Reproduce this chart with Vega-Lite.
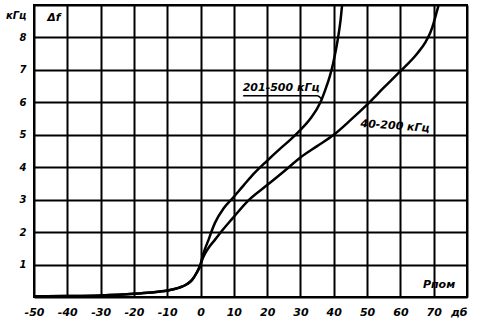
{
  "$schema": "https://vega.github.io/schema/vega-lite/v6.json",
  "width": 433,
  "height": 292,
  "autosize": "none",
  "padding": {"left": 34, "top": 5, "right": 11, "bottom": 29},
  "background": "white",
  "config": {
    "view": {"stroke": "black", "strokeWidth": 2},
    "font": "DejaVu Sans"
  },
  "datasets": {
    "curves": [
      {"series": "201-500 кГц", "x": -50, "y": 0.02},
      {"series": "201-500 кГц", "x": -40, "y": 0.03},
      {"series": "201-500 кГц", "x": -30, "y": 0.05},
      {"series": "201-500 кГц", "x": -20, "y": 0.1},
      {"series": "201-500 кГц", "x": -15, "y": 0.14},
      {"series": "201-500 кГц", "x": -10, "y": 0.2},
      {"series": "201-500 кГц", "x": -6.6, "y": 0.28},
      {"series": "201-500 кГц", "x": -4, "y": 0.4},
      {"series": "201-500 кГц", "x": -2.6, "y": 0.52},
      {"series": "201-500 кГц", "x": -1.2, "y": 0.74},
      {"series": "201-500 кГц", "x": 0, "y": 1.0},
      {"series": "201-500 кГц", "x": 0.6, "y": 1.25},
      {"series": "201-500 кГц", "x": 1.4, "y": 1.5},
      {"series": "201-500 кГц", "x": 2.4, "y": 1.76},
      {"series": "201-500 кГц", "x": 3.4, "y": 2.05},
      {"series": "201-500 кГц", "x": 4.4, "y": 2.3},
      {"series": "201-500 кГц", "x": 6.9, "y": 2.73},
      {"series": "201-500 кГц", "x": 9.4, "y": 3.02},
      {"series": "201-500 кГц", "x": 13, "y": 3.45},
      {"series": "201-500 кГц", "x": 16, "y": 3.8},
      {"series": "201-500 кГц", "x": 20, "y": 4.2},
      {"series": "201-500 кГц", "x": 24, "y": 4.58},
      {"series": "201-500 кГц", "x": 27, "y": 4.85},
      {"series": "201-500 кГц", "x": 30, "y": 5.15},
      {"series": "201-500 кГц", "x": 33, "y": 5.5},
      {"series": "201-500 кГц", "x": 36, "y": 6.0},
      {"series": "201-500 кГц", "x": 37.5, "y": 6.4},
      {"series": "201-500 кГц", "x": 38.8, "y": 6.8},
      {"series": "201-500 кГц", "x": 39.8, "y": 7.2},
      {"series": "201-500 кГц", "x": 40.6, "y": 7.6},
      {"series": "201-500 кГц", "x": 41.3, "y": 8.0},
      {"series": "201-500 кГц", "x": 42.0, "y": 8.5},
      {"series": "201-500 кГц", "x": 42.5, "y": 9.0},
      {"series": "40-200 кГц", "x": -50, "y": 0.02},
      {"series": "40-200 кГц", "x": -40, "y": 0.03},
      {"series": "40-200 кГц", "x": -30, "y": 0.05},
      {"series": "40-200 кГц", "x": -20, "y": 0.1},
      {"series": "40-200 кГц", "x": -15, "y": 0.14},
      {"series": "40-200 кГц", "x": -10, "y": 0.2},
      {"series": "40-200 кГц", "x": -6.6, "y": 0.28},
      {"series": "40-200 кГц", "x": -4, "y": 0.4},
      {"series": "40-200 кГц", "x": -2.6, "y": 0.52},
      {"series": "40-200 кГц", "x": -1.2, "y": 0.74},
      {"series": "40-200 кГц", "x": 0, "y": 1.0},
      {"series": "40-200 кГц", "x": 0.7, "y": 1.2},
      {"series": "40-200 кГц", "x": 1.6, "y": 1.38},
      {"series": "40-200 кГц", "x": 2.8, "y": 1.57},
      {"series": "40-200 кГц", "x": 4.3, "y": 1.76},
      {"series": "40-200 кГц", "x": 6.5, "y": 2.05},
      {"series": "40-200 кГц", "x": 9.4, "y": 2.4},
      {"series": "40-200 кГц", "x": 14.4, "y": 2.98},
      {"series": "40-200 кГц", "x": 20, "y": 3.45},
      {"series": "40-200 кГц", "x": 25, "y": 3.87},
      {"series": "40-200 кГц", "x": 30, "y": 4.3},
      {"series": "40-200 кГц", "x": 35, "y": 4.65},
      {"series": "40-200 кГц", "x": 40, "y": 5.0},
      {"series": "40-200 кГц", "x": 45, "y": 5.45},
      {"series": "40-200 кГц", "x": 50, "y": 5.93},
      {"series": "40-200 кГц", "x": 55, "y": 6.45},
      {"series": "40-200 кГц", "x": 60, "y": 6.96},
      {"series": "40-200 кГц", "x": 65, "y": 7.5},
      {"series": "40-200 кГц", "x": 67.5, "y": 7.85},
      {"series": "40-200 кГц", "x": 69, "y": 8.15},
      {"series": "40-200 кГц", "x": 70, "y": 8.45},
      {"series": "40-200 кГц", "x": 70.8, "y": 8.75},
      {"series": "40-200 кГц", "x": 71.5, "y": 9.0}
    ],
    "leader": [
      {"x": 12.8, "y": 6.2},
      {"x": 35.0, "y": 6.2},
      {"x": 36.6, "y": 6.07}
    ],
    "labels": [
      {"text": "Δf", "x": -44, "y": 8.6, "angle": 0},
      {"text": "201-500 кГц", "x": 24.2, "y": 6.45, "angle": 0},
      {"text": "40-200 кГц", "x": 58.4, "y": 5.26, "angle": 4},
      {"text": "Рпом", "x": 71.6, "y": 0.36, "angle": 0}
    ]
  },
  "encoding": {
    "x": {
      "field": "x", "type": "quantitative",
      "scale": {"domain": [-50, 80], "nice": false, "zero": false},
      "axis": {
        "title": null,
        "values": [-50, -40, -30, -20, -10, 0, 10, 20, 30, 40, 50, 60, 70, 80],
        "grid": true, "gridColor": "black", "gridWidth": 2, "gridOpacity": 1,
        "domain": false, "ticks": false,
        "labelExpr": "datum.value == 80 ? 'дб' : (datum.value < 0 ? '-' + abs(datum.value) : '' + datum.value)",
        "labelAlign": {"condition": {"test": "datum.value == 80", "value": "right"}, "value": "center"},
        "labelPadding": 9,
        "labelFont": "DejaVu Sans", "labelFontStyle": "italic", "labelFontWeight": "bold",
        "labelFontSize": 11, "labelColor": "black", "labelFlush": false, "labelOverlap": false
      }
    },
    "y": {
      "field": "y", "type": "quantitative",
      "scale": {"domain": [0, 9], "nice": false, "zero": false},
      "axis": {
        "title": null,
        "values": [0, 1, 2, 3, 4, 5, 6, 7, 8, 9],
        "grid": true, "gridColor": "black", "gridWidth": 2, "gridOpacity": 1,
        "domain": false, "ticks": false,
        "labelExpr": "datum.value == 0 ? '' : (datum.value == 9 ? 'кГц' : datum.label)",
        "labelOffset": {"condition": {"test": "datum.value == 9", "value": 10}, "value": 0},
        "labelPadding": 8,
        "labelFont": "DejaVu Sans", "labelFontStyle": "italic", "labelFontWeight": "bold",
        "labelFontSize": 10, "labelColor": "black", "labelFlush": false, "labelOverlap": false
      }
    }
  },
  "layer": [
    {
      "data": {"name": "curves"},
      "mark": {"type": "line", "color": "black", "strokeWidth": 2.5, "interpolate": "monotone", "clip": true},
      "encoding": {
        "detail": {"field": "series", "type": "nominal"}
      }
    },
    {
      "data": {"name": "leader"},
      "mark": {"type": "line", "color": "black", "strokeWidth": 1.5, "interpolate": "monotone"},
      "encoding": {}
    },
    {
      "data": {"name": "labels"},
      "mark": {"type": "text", "color": "black", "font": "DejaVu Sans", "fontStyle": "italic", "fontWeight": "bold", "fontSize": 11, "align": "center", "baseline": "middle"},
      "encoding": {
        "text": {"field": "text"},
        "angle": {"field": "angle", "type": "quantitative", "scale": null}
      }
    }
  ]
}
